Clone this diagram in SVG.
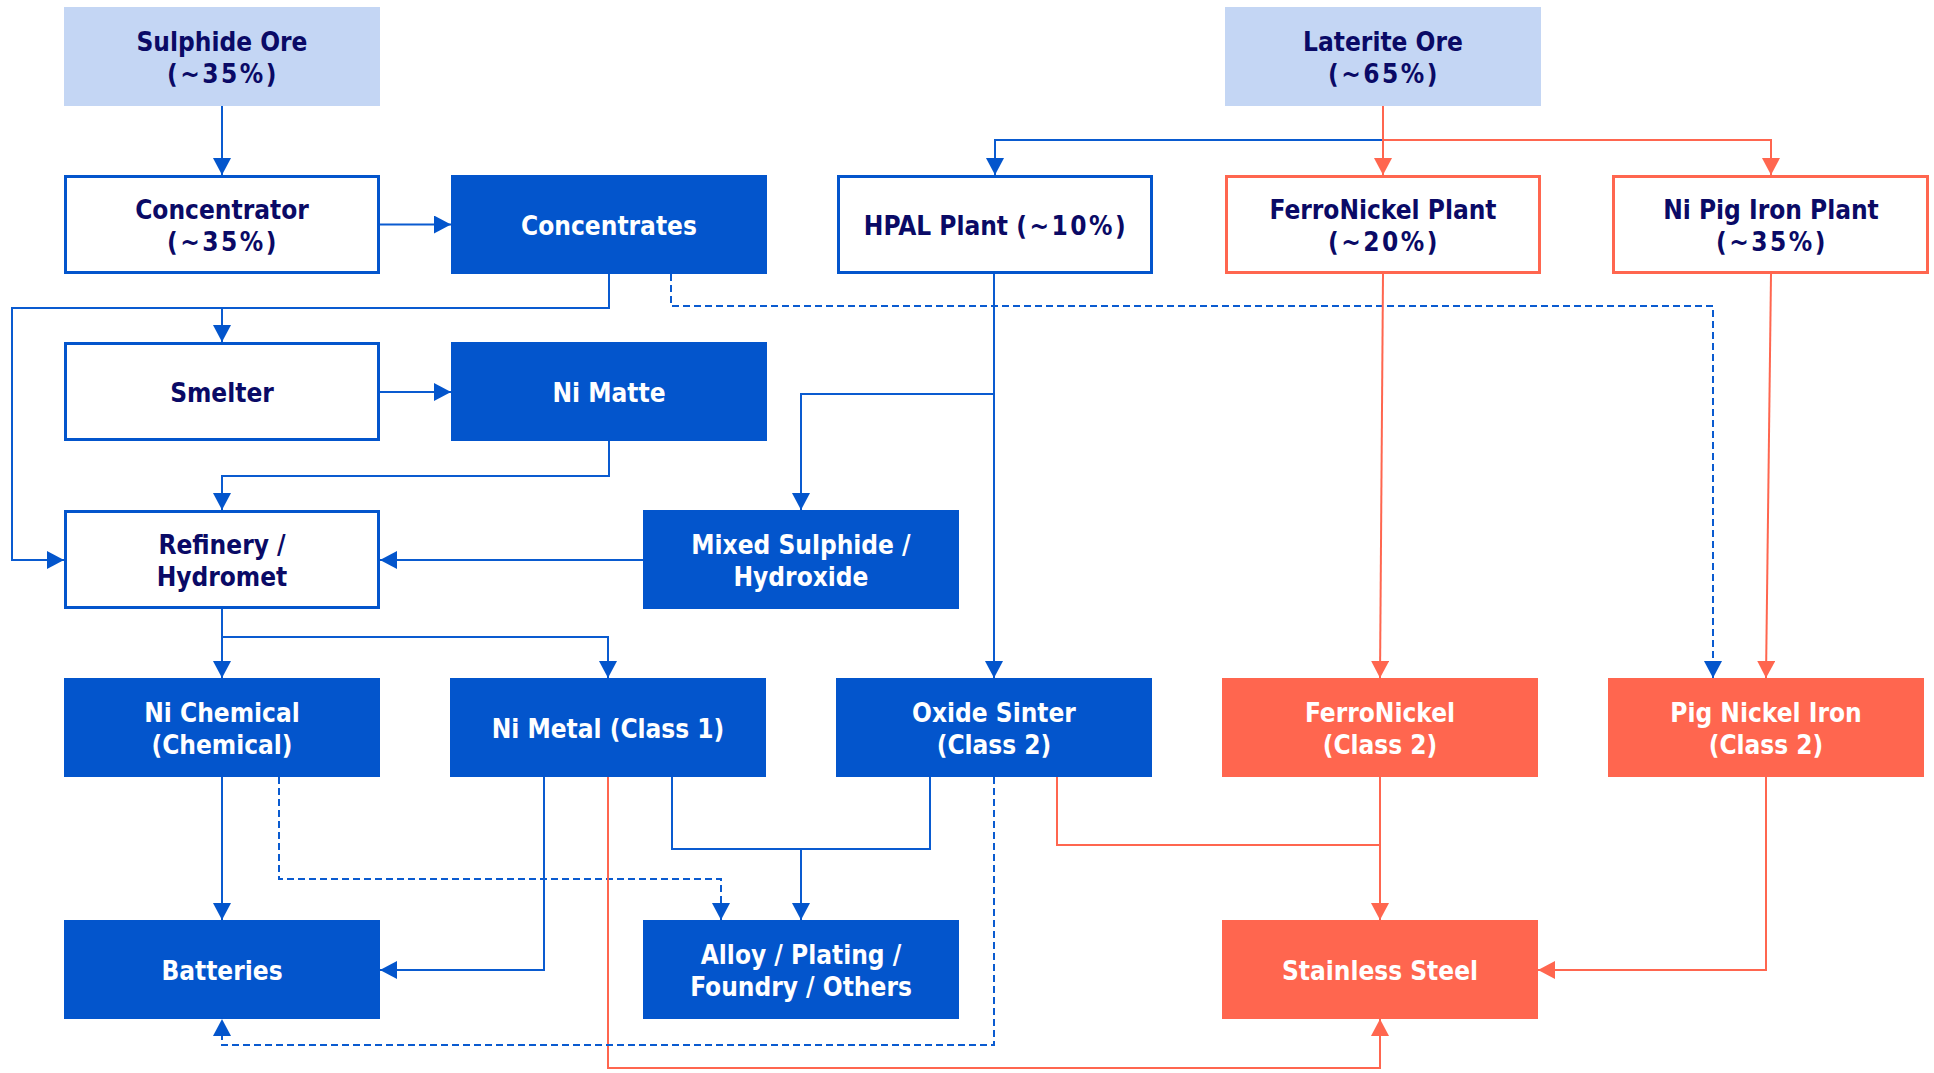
<svg xmlns="http://www.w3.org/2000/svg" width="1934" height="1073" viewBox="0 0 1934 1073">
<defs>
<style>
.t{font-family:"DejaVu Sans Condensed","DejaVu Sans",sans-serif;font-weight:bold;font-size:26px;text-anchor:middle}
.pc{letter-spacing:2.5px}
.dk{fill:#0A0A66}
.wt{fill:#FFFFFF}
.ore{fill:#C4D6F4}
.bf{fill:#0355CC}
.rf{fill:#FF664F}
.bo{fill:#FFFFFF;stroke:#0355CC;stroke-width:3}
.ro{fill:#FFFFFF;stroke:#FF664F;stroke-width:3}
.bl{fill:none;stroke:#0A5BD0;stroke-width:2}
.rl{fill:none;stroke:#FF664F;stroke-width:2}
.ds{stroke-dasharray:7,4}
</style>
<marker id="ab" markerUnits="userSpaceOnUse" markerWidth="18" markerHeight="18" refX="17" refY="9" orient="auto">
<path d="M0,0 L17,9 L0,18 z" fill="#0355CC"/>
</marker>
<marker id="ar" markerUnits="userSpaceOnUse" markerWidth="18" markerHeight="18" refX="17" refY="9" orient="auto">
<path d="M0,0 L17,9 L0,18 z" fill="#FF664F"/>
</marker>
</defs>
<rect width="1934" height="1073" fill="#FFFFFF"/>

<g id="connectors">
<path class="bl" d="M222,106 V175" marker-end="url(#ab)"/>
<path class="bl" d="M380,224.5 H451" marker-end="url(#ab)"/>
<path class="bl" d="M609,274 V308 H12 V560 H64" marker-end="url(#ab)"/>
<path class="bl" d="M222,308 V342" marker-end="url(#ab)"/>
<path class="bl ds" d="M671,274 V306 H1713 V678" marker-end="url(#ab)"/>
<path class="bl" d="M380,392 H451" marker-end="url(#ab)"/>
<path class="bl" d="M609,441 V476 H222 V510" marker-end="url(#ab)"/>
<path class="bl" d="M643,560 H380" marker-end="url(#ab)"/>
<path class="bl" d="M1383,140 H995 V175" marker-end="url(#ab)"/>
<path class="rl" d="M1383,106 V175" marker-end="url(#ar)"/>
<path class="rl" d="M1383,140 H1771 V175" marker-end="url(#ar)"/>
<path class="bl" d="M994,274 V678" marker-end="url(#ab)"/>
<path class="bl" d="M994,394 H801 V510" marker-end="url(#ab)"/>
<path class="rl" d="M1383,274 L1380,678" marker-end="url(#ar)"/>
<path class="rl" d="M1771,274 L1766,678" marker-end="url(#ar)"/>
<path class="bl" d="M222,609 V678" marker-end="url(#ab)"/>
<path class="bl" d="M222,637 H608 V678" marker-end="url(#ab)"/>
<path class="bl" d="M222,777 V920" marker-end="url(#ab)"/>
<path class="bl ds" d="M279,777 V879 H721 V920" marker-end="url(#ab)"/>
<path class="bl" d="M544,777 V970 H380" marker-end="url(#ab)"/>
<path class="rl" d="M608,777 V1068 H1380 V1019" marker-end="url(#ar)"/>
<path class="bl" d="M672,777 V849 H930 V777"/>
<path class="bl" d="M801,849 V920" marker-end="url(#ab)"/>
<path class="bl ds" d="M994,777 V1045 H222 V1019" marker-end="url(#ab)"/>
<path class="rl" d="M1057,777 V845 H1380"/>
<path class="rl" d="M1380,777 V920" marker-end="url(#ar)"/>
<path class="rl" d="M1766,777 V970 H1538" marker-end="url(#ar)"/>
</g>

<g id="sulphide-ore"><rect class="ore" x="64" y="7" width="316" height="99"/>
<text class="t dk" x="222" y="51">Sulphide Ore</text><text class="t dk pc" x="223" y="83">(~35%)</text></g>
<g id="laterite-ore"><rect class="ore" x="1225" y="7" width="316" height="99"/>
<text class="t dk" x="1383" y="51">Laterite Ore</text><text class="t dk pc" x="1384" y="83">(~65%)</text></g>

<g id="concentrator"><rect class="bo" x="65.5" y="176.5" width="313" height="96"/>
<text class="t dk" x="222" y="219">Concentrator</text><text class="t dk pc" x="223" y="251">(~35%)</text></g>
<g id="concentrates"><rect class="bf" x="451" y="175" width="316" height="99"/>
<text class="t wt" x="609" y="235">Concentrates</text></g>
<g id="hpal-plant"><rect class="bo" x="838.5" y="176.5" width="313" height="96"/>
<text class="t dk" x="996" y="235">HPAL Plant <tspan class="pc">(~10%)</tspan></text></g>
<g id="ferronickel-plant"><rect class="ro" x="1226.5" y="176.5" width="313" height="96"/>
<text class="t dk" x="1383" y="219">FerroNickel Plant</text><text class="t dk pc" x="1384" y="251">(~20%)</text></g>
<g id="ni-pig-iron-plant"><rect class="ro" x="1613.5" y="176.5" width="314" height="96"/>
<text class="t dk" x="1771" y="219">Ni Pig Iron Plant</text><text class="t dk pc" x="1772" y="251">(~35%)</text></g>

<g id="smelter"><rect class="bo" x="65.5" y="343.5" width="313" height="96"/>
<text class="t dk" x="222" y="402">Smelter</text></g>
<g id="ni-matte"><rect class="bf" x="451" y="342" width="316" height="99"/>
<text class="t wt" x="609" y="402">Ni Matte</text></g>

<g id="refinery"><rect class="bo" x="65.5" y="511.5" width="313" height="96"/>
<text class="t dk" x="222" y="554">Refinery /</text><text class="t dk" x="222" y="586">Hydromet</text></g>
<g id="mixed-sulphide"><rect class="bf" x="643" y="510" width="316" height="99"/>
<text class="t wt" x="801" y="554">Mixed Sulphide /</text><text class="t wt" x="801" y="586">Hydroxide</text></g>

<g id="ni-chemical"><rect class="bf" x="64" y="678" width="316" height="99"/>
<text class="t wt" x="222" y="722">Ni Chemical</text><text class="t wt" x="222" y="754">(Chemical)</text></g>
<g id="ni-metal"><rect class="bf" x="450" y="678" width="316" height="99"/>
<text class="t wt" x="608" y="738">Ni Metal (Class 1)</text></g>
<g id="oxide-sinter"><rect class="bf" x="836" y="678" width="316" height="99"/>
<text class="t wt" x="994" y="722">Oxide Sinter</text><text class="t wt" x="994" y="754">(Class 2)</text></g>
<g id="ferronickel"><rect class="rf" x="1222" y="678" width="316" height="99"/>
<text class="t wt" x="1380" y="722">FerroNickel</text><text class="t wt" x="1380" y="754">(Class 2)</text></g>
<g id="pig-nickel-iron"><rect class="rf" x="1608" y="678" width="316" height="99"/>
<text class="t wt" x="1766" y="722">Pig Nickel Iron</text><text class="t wt" x="1766" y="754">(Class 2)</text></g>

<g id="batteries"><rect class="bf" x="64" y="920" width="316" height="99"/>
<text class="t wt" x="222" y="980">Batteries</text></g>
<g id="alloy"><rect class="bf" x="643" y="920" width="316" height="99"/>
<text class="t wt" x="801" y="964">Alloy / Plating /</text><text class="t wt" x="801" y="996">Foundry / Others</text></g>
<g id="stainless-steel"><rect class="rf" x="1222" y="920" width="316" height="99"/>
<text class="t wt" x="1380" y="980">Stainless Steel</text></g>
</svg>
